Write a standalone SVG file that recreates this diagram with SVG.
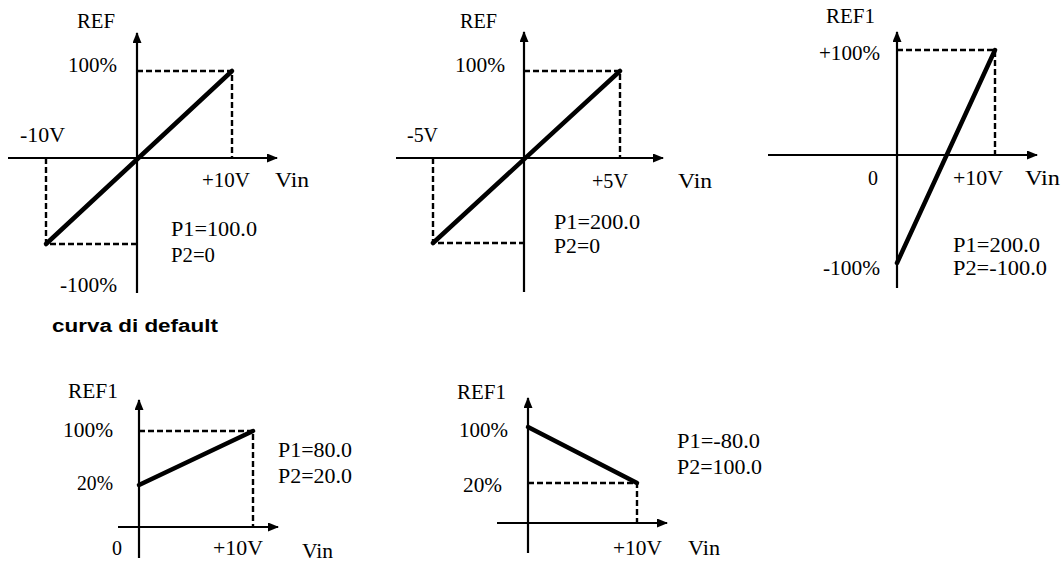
<svg xmlns="http://www.w3.org/2000/svg" width="1062" height="563" viewBox="0 0 1062 563">
<style>
text{font-family:"Liberation Serif","Times New Roman",serif;font-size:20px;fill:#000}
.t{font-family:"Liberation Sans",Arial,sans-serif;font-weight:bold;font-size:18px}
.ax{stroke:#000;stroke-width:2.2;fill:none;marker-end:url(#ah)}
.cv{stroke:#000;stroke-width:4.5;fill:none;stroke-linecap:round}
.ds{stroke:#000;stroke-width:2.4;fill:none;stroke-dasharray:6,3}
</style>
<defs>
<marker id="ah" markerUnits="userSpaceOnUse" markerWidth="11" markerHeight="10" refX="10" refY="4.5" orient="auto">
<path d="M0,0 L11,4.5 L0,9 Z" fill="#000"/>
</marker>
</defs>
<rect width="1062" height="563" fill="#fff"/>
<g id="plot1">
<g id="connectors1">
<line class="ax" x1="8" y1="158" x2="277" y2="158"/>
<line class="ax" x1="137" y1="293" x2="137" y2="33"/>
<polyline class="ds" points="137,71 232,71 232,158"/>
<polyline class="ds" points="46,158 46,244 137,244"/>
<line class="cv" x1="46" y1="244" x2="232" y2="71"/>
</g>
<text x="77" y="28" textLength="38" lengthAdjust="spacingAndGlyphs">REF</text>
<text x="68" y="72" textLength="49" lengthAdjust="spacingAndGlyphs">100%</text>
<text x="20" y="142" textLength="45" lengthAdjust="spacingAndGlyphs">-10V</text>
<text x="202" y="187" textLength="48" lengthAdjust="spacingAndGlyphs">+10V</text>
<text x="275" y="187" textLength="34" lengthAdjust="spacingAndGlyphs">Vin</text>
<text x="171" y="236" textLength="86" lengthAdjust="spacingAndGlyphs">P1=100.0</text>
<text x="171" y="262" textLength="44" lengthAdjust="spacingAndGlyphs">P2=0</text>
<text x="60" y="292" textLength="57" lengthAdjust="spacingAndGlyphs">-100%</text>
</g>
<g id="plot2">
<g id="connectors2">
<line class="ax" x1="396" y1="158" x2="663" y2="158"/>
<line class="ax" x1="524" y1="292" x2="524" y2="32"/>
<polyline class="ds" points="524,71 620,71 620,158"/>
<polyline class="ds" points="433,158 433,243 524,243"/>
<line class="cv" x1="433" y1="243" x2="620" y2="71"/>
</g>
<text x="460" y="28" textLength="37" lengthAdjust="spacingAndGlyphs">REF</text>
<text x="455" y="72" textLength="50" lengthAdjust="spacingAndGlyphs">100%</text>
<text x="407" y="142" textLength="31" lengthAdjust="spacingAndGlyphs">-5V</text>
<text x="592" y="188" textLength="36" lengthAdjust="spacingAndGlyphs">+5V</text>
<text x="678" y="188" textLength="34" lengthAdjust="spacingAndGlyphs">Vin</text>
<text x="554" y="229" textLength="86" lengthAdjust="spacingAndGlyphs">P1=200.0</text>
<text x="554" y="253" textLength="46" lengthAdjust="spacingAndGlyphs">P2=0</text>
</g>
<g id="plot3">
<g id="connectors3">
<line class="ax" x1="768" y1="155" x2="1037" y2="155"/>
<line class="ax" x1="897" y1="288" x2="897" y2="32"/>
<polyline class="ds" points="897,50 995,50 995,155"/>
<line class="cv" x1="897" y1="263" x2="995" y2="50"/>
</g>
<text x="826" y="23" textLength="49" lengthAdjust="spacingAndGlyphs">REF1</text>
<text x="819" y="60" textLength="61" lengthAdjust="spacingAndGlyphs">+100%</text>
<text x="868" y="185">0</text>
<text x="953" y="185" textLength="50" lengthAdjust="spacingAndGlyphs">+10V</text>
<text x="1025" y="185" textLength="35" lengthAdjust="spacingAndGlyphs">Vin</text>
<text x="953" y="252" textLength="87" lengthAdjust="spacingAndGlyphs">P1=200.0</text>
<text x="953" y="275" textLength="94" lengthAdjust="spacingAndGlyphs">P2=-100.0</text>
<text x="823" y="275" textLength="57" lengthAdjust="spacingAndGlyphs">-100%</text>
</g>
<text class="t" x="52" y="332" textLength="166" lengthAdjust="spacingAndGlyphs">curva di default</text>
<g id="plot4">
<g id="connectors4">
<line class="ax" x1="118" y1="527" x2="278" y2="527"/>
<line class="ax" x1="139" y1="558" x2="139" y2="400"/>
<polyline class="ds" points="139,431 253,431 253,527"/>
<line class="cv" x1="139" y1="485" x2="253" y2="431"/>
</g>
<text x="68" y="398" textLength="50" lengthAdjust="spacingAndGlyphs">REF1</text>
<text x="63" y="437" textLength="50" lengthAdjust="spacingAndGlyphs">100%</text>
<text x="77" y="490" textLength="36" lengthAdjust="spacingAndGlyphs">20%</text>
<text x="112" y="555">0</text>
<text x="213" y="555" textLength="50" lengthAdjust="spacingAndGlyphs">+10V</text>
<text x="302" y="558" textLength="31" lengthAdjust="spacingAndGlyphs">Vin</text>
<text x="278" y="457" textLength="74" lengthAdjust="spacingAndGlyphs">P1=80.0</text>
<text x="278" y="483" textLength="74" lengthAdjust="spacingAndGlyphs">P2=20.0</text>
</g>
<g id="plot5">
<g id="connectors5">
<line class="ax" x1="497" y1="523" x2="667" y2="523"/>
<line class="ax" x1="528" y1="553" x2="528" y2="398"/>
<polyline class="ds" points="528,483 637,483 637,523"/>
<line class="cv" x1="528" y1="427" x2="637" y2="483"/>
</g>
<text x="457" y="399" textLength="49" lengthAdjust="spacingAndGlyphs">REF1</text>
<text x="459" y="437" textLength="49" lengthAdjust="spacingAndGlyphs">100%</text>
<text x="463" y="492" textLength="39" lengthAdjust="spacingAndGlyphs">20%</text>
<text x="613" y="555" textLength="49" lengthAdjust="spacingAndGlyphs">+10V</text>
<text x="688" y="555" textLength="32" lengthAdjust="spacingAndGlyphs">Vin</text>
<text x="677" y="448" textLength="83" lengthAdjust="spacingAndGlyphs">P1=-80.0</text>
<text x="677" y="474" textLength="85" lengthAdjust="spacingAndGlyphs">P2=100.0</text>
</g>
</svg>
